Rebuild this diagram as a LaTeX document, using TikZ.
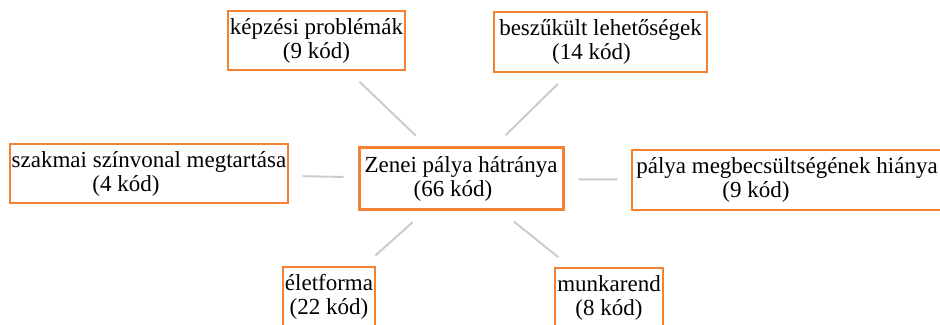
\documentclass[tikz,border=0pt]{standalone}
\usepackage{fontspec}
\setmainfont{Liberation Serif}
\usepackage{xcolor}
\definecolor{boxorange}{RGB}{244,128,52}

\begin{document}
\begin{tikzpicture}[x=0.5pt,y=-0.5pt,
  every node/.style={font=\fontsize{11.5}{12}\selectfont},
  codebox/.style={draw=boxorange,line width=0.75pt,rectangle,inner sep=0pt,align=center},
  hubbox/.style={codebox,line width=1.5pt},
  link/.style={draw=gray!40,line width=1pt,shorten >=8pt,shorten <=8pt}]
\useasboundingbox (0,0) rectangle (940,325);
\clip (0,0) rectangle (940,325);
% central theme
\node[hubbox,minimum width=102pt,minimum height=31pt] (hub) at (461,179)
  {Zenei pálya hátránya\\(66 kód)\hspace*{8pt}};
% sub-themes
\node[codebox,minimum width=88.5pt,minimum height=29.5pt] (kepzes) at (316.5,40.5)
  {képzési problémák\\(9 kód)};
\node[codebox,minimum width=106.5pt,minimum height=30pt] (szukult) at (600.5,42)
  {beszűkült lehetőségek\\(14 kód)\hspace*{9pt}};
\node[codebox,minimum width=139pt,minimum height=29.5pt] (szinvonal) at (149,173.5)
  {szakmai színvonal megtartása\\(4 kód)\hspace*{23pt}};
\node[codebox,minimum width=155pt,minimum height=30pt] (megbecs) at (787,180)
  {pálya megbecsültségének hiánya\\(9 kód)\hspace*{31pt}};
\node[codebox,minimum width=46pt,minimum height=30pt] (eletforma) at (329,297)
  {életforma\\(22 kód)};
\node[codebox,minimum width=54pt,minimum height=30pt] (munkarend) at (609,298)
  {munkarend\\(8 kód)};
% connectors
\draw[link] (hub) -- (kepzes);
\draw[link] (hub) -- (szukult);
\draw[link,shorten >=7pt,shorten <=7pt] (hub) -- (szinvonal);
\draw[link,shorten >=7pt,shorten <=7pt] (hub) -- (megbecs);
\draw[link] (hub) -- (eletforma);
\draw[link] (hub) -- (munkarend);
\end{tikzpicture}
\end{document}
